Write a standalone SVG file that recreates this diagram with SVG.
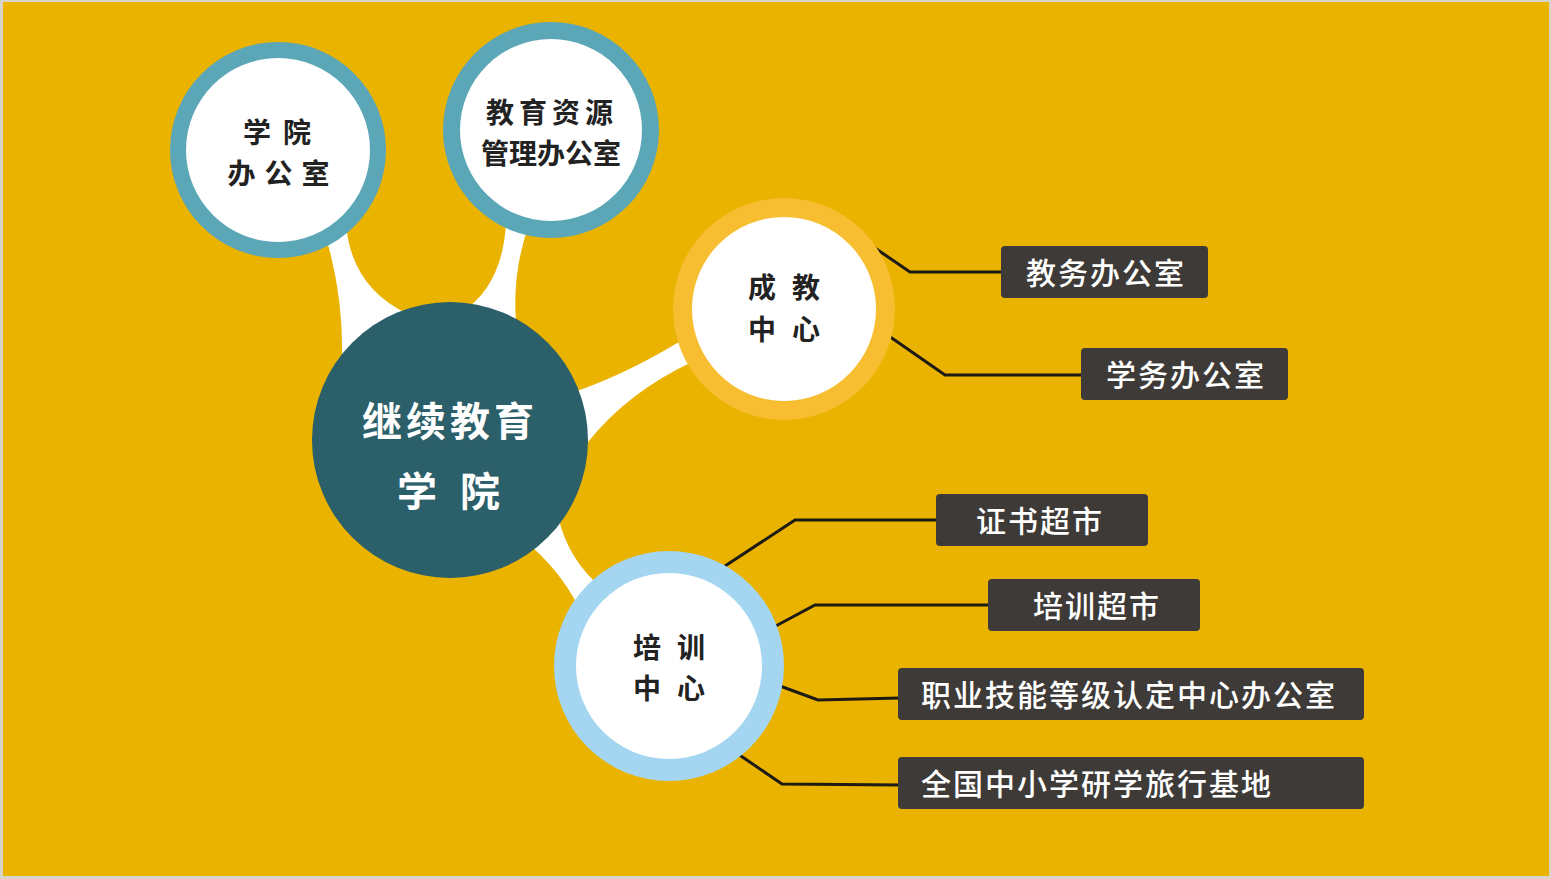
<svg xmlns="http://www.w3.org/2000/svg" width="1551" height="879" viewBox="0 0 1551 879">
<style>
.cjk{font-family:"Noto Sans CJK SC","Noto Sans CJK JP",sans-serif}
.ct{font-size:28px;fill:#222;font-weight:700;text-anchor:middle}
.bt{font-size:30px;fill:#fff;font-weight:500;letter-spacing:2px}
.box{fill:#3d3a37}
.ln{fill:none;stroke:#1e1a14;stroke-width:3;stroke-linejoin:miter}
.wh{fill:#fff}
.big{font-size:40px;fill:#fff;font-weight:700;text-anchor:middle}
</style>
<rect x="0" y="0" width="1551" height="879" fill="#d9d4c8"/>
<rect x="3" y="2" width="1546" height="874" fill="#e9b300"/>
<g id="connectors">
  <path class="wh" d="M 322,225 L 346,225 Q 352,288 408,314 L 342,362 Q 344,290 322,225 Z"/>
  <path class="wh" d="M 506,222 L 530,222 Q 512,270 516,322 L 462,312 Q 503,285 506,222 Z"/>
  <path class="wh" d="M 574,392 Q 630,373 692,334 L 692,362 Q 628,392 588,442 Z"/>
  <path class="wh" d="M 524,540 L 558,516 Q 568,560 602,588 L 578,606 Q 560,570 524,540 Z"/>
  <polyline class="ln" points="872,246 910,272 1003,272"/>
  <polyline class="ln" points="886,334 945,375 1083,375"/>
  <polyline class="ln" points="722,568 795,520 938,520"/>
  <polyline class="ln" points="772,628 815,605 990,605"/>
  <polyline class="ln" points="780,686 818,700 900,698"/>
  <polyline class="ln" points="738,754 782,784 900,785"/>
</g>
<g id="node-xueyuan-office">
  <circle cx="278" cy="150" r="108" fill="#5ba7b8"/>
  <circle cx="278" cy="150" r="92" fill="#fff"/>
  <text class="cjk ct" x="283" y="143" style="letter-spacing:12px">学院</text>
  <text class="cjk ct" x="283" y="184" style="letter-spacing:9px">办公室</text>
</g>
<g id="node-ziyuan-office">
  <circle cx="551" cy="130" r="108" fill="#5ba7b8"/>
  <circle cx="551" cy="130" r="91" fill="#fff"/>
  <text class="cjk ct" x="552" y="123" style="letter-spacing:5px">教育资源</text>
  <text class="cjk ct" x="551" y="164">管理办公室</text>
</g>
<g id="node-center">
  <circle cx="450" cy="440" r="138" fill="#2b5f69"/>
  <text class="cjk big" x="450" y="436" style="letter-spacing:4px">继续教育</text>
  <text class="cjk big" x="417" y="506">学</text>
  <text class="cjk big" x="480" y="506">院</text>
</g>
<g id="node-chengjiao">
  <circle cx="784" cy="309" r="111" fill="#f7be32"/>
  <circle cx="784" cy="309" r="92" fill="#fff"/>
  <text class="cjk ct" x="792" y="298" style="letter-spacing:16px">成教</text>
  <text class="cjk ct" x="792" y="340" style="letter-spacing:16px">中心</text>
</g>
<g id="node-peixun">
  <circle cx="669" cy="666" r="115" fill="#a4d6f2"/>
  <circle cx="669" cy="666" r="93" fill="#fff"/>
  <text class="cjk ct" x="677" y="658" style="letter-spacing:16px">培训</text>
  <text class="cjk ct" x="677" y="699" style="letter-spacing:16px">中心</text>
</g>
<g id="box-jiaowu">
  <rect class="box" x="1001" y="246" width="207" height="52" rx="4"/>
  <text class="cjk bt" x="1106" y="284" text-anchor="middle">教务办公室</text>
</g>
<g id="box-xuewu">
  <rect class="box" x="1081" y="348" width="207" height="52" rx="4"/>
  <text class="cjk bt" x="1186" y="386" text-anchor="middle">学务办公室</text>
</g>
<g id="box-zhengshu">
  <rect class="box" x="936" y="494" width="212" height="52" rx="4"/>
  <text class="cjk bt" x="1040" y="532" text-anchor="middle">证书超市</text>
</g>
<g id="box-peixun-market">
  <rect class="box" x="988" y="579" width="212" height="52" rx="4"/>
  <text class="cjk bt" x="1097" y="617" text-anchor="middle">培训超市</text>
</g>
<g id="box-zhiye">
  <rect class="box" x="898" y="668" width="466" height="52" rx="4"/>
  <text class="cjk bt" x="921" y="706">职业技能等级认定中心办公室</text>
</g>
<g id="box-yanxue">
  <rect class="box" x="898" y="757" width="466" height="52" rx="4"/>
  <text class="cjk bt" x="921" y="795">全国中小学研学旅行基地</text>
</g>
</svg>
